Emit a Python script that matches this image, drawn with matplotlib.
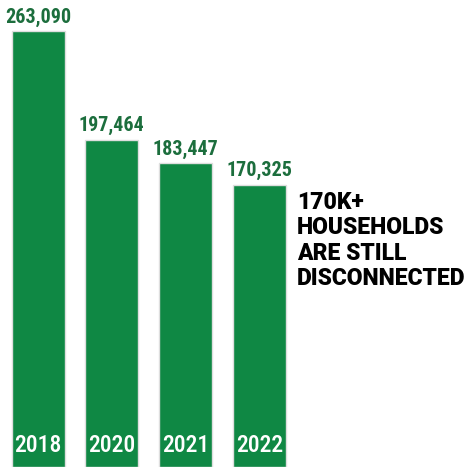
import matplotlib
matplotlib.use("Agg")
import matplotlib.pyplot as plt

# --- Donnees ---
years = ["2018", "2020", "2021", "2022"]
households = [263090, 197464, 183447, 170325]
callout = "170K+\nHOUSEHOLDS\nARE STILL\nDISCONNECTED"

BAR_COLOR = "#0f8844"
LABEL_COLOR = "#1c6e3d"
NARROW = ["Roboto Condensed", "Oswald", "Barlow Condensed", "DejaVu Sans"]
HEAVY = ["Roboto", "DejaVu Sans"]

fig = plt.figure(figsize=(4.73, 4.69), dpi=100)
ax = fig.add_axes([0, 2 / 469, 1, 467 / 469])
ax.set_xlim(-0.516, 5.90)
ax.set_ylim(0, 281600)
ax.axis("off")

x = list(range(len(years)))
bars = ax.bar(x, households, width=0.72, color=BAR_COLOR,
              edgecolor="#dedede", linewidth=1.0)

# valeurs au-dessus des barres
for xi, val in zip(x, households):
    ax.annotate(f"{val:,}", (xi, val), xytext=(0, 3), textcoords="offset points",
                ha="center", va="bottom", fontsize=14.5, fontweight="semibold",
                color=LABEL_COLOR, family=NARROW)

# annees en bas des barres
for xi, yr in zip(x, years):
    ax.annotate(yr, (xi, 0), xytext=(0, 7), textcoords="offset points",
                ha="center", va="bottom", fontsize=17, fontweight="medium",
                color="white", family=NARROW)

# texte a droite
fig.text(297 / 473, 1 - 191 / 469, callout, ha="left", va="top",
         fontsize=16.5, fontweight="black", color="black",
         linespacing=1.13, family=HEAVY)

fig.savefig("out.png", dpi=100)
